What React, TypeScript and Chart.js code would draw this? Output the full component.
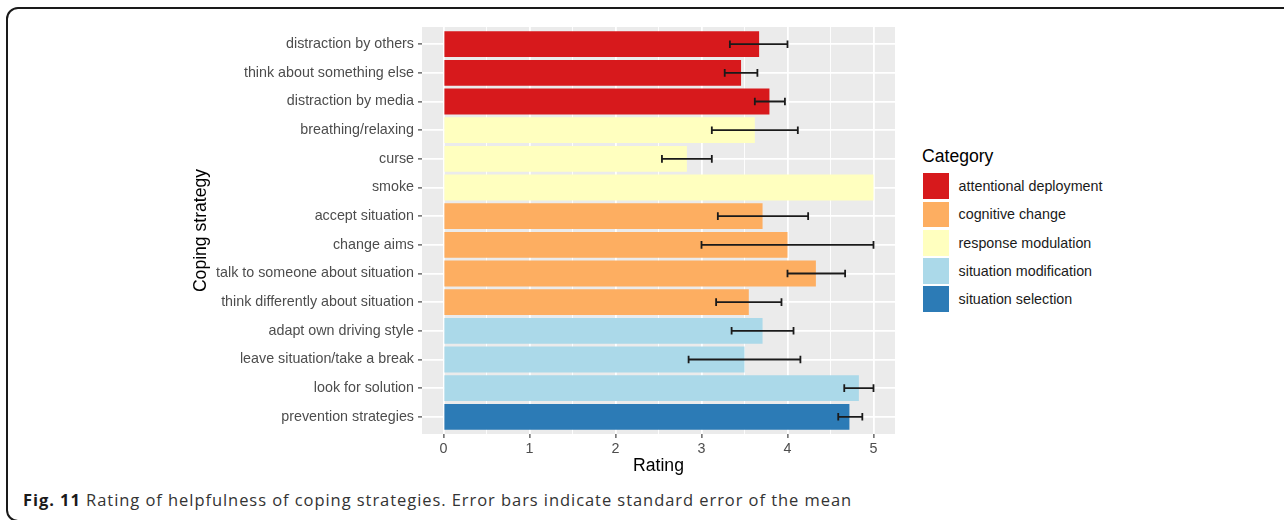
import React, { useEffect, useRef } from "react";
import Chart from "chart.js/auto";

// ---- data ----
const strategies = [
  "distraction by others",
  "think about something else",
  "distraction by media",
  "breathing/relaxing",
  "curse",
  "smoke",
  "accept situation",
  "change aims",
  "talk to someone about situation",
  "think differently about situation",
  "adapt own driving style",
  "leave situation/take a break",
  "look for solution",
  "prevention strategies",
];
const ratings = [3.67, 3.46, 3.79, 3.62, 2.83, 5.0, 3.71, 4.0, 4.33, 3.55, 3.71, 3.5, 4.83, 4.72];
const errLow: (number | null)[] = [3.33, 3.27, 3.62, 3.12, 2.54, null, 3.19, 3.0, 4.0, 3.17, 3.35, 2.85, 4.66, 4.59];
const errHigh: (number | null)[] = [4.0, 3.65, 3.97, 4.12, 3.12, null, 4.24, 5.0, 4.67, 3.93, 4.07, 4.15, 5.0, 4.87];
const strategyCategory = [
  "attentional deployment",
  "attentional deployment",
  "attentional deployment",
  "response modulation",
  "response modulation",
  "response modulation",
  "cognitive change",
  "cognitive change",
  "cognitive change",
  "cognitive change",
  "situation modification",
  "situation modification",
  "situation modification",
  "situation selection",
];
const categories = [
  "attentional deployment",
  "cognitive change",
  "response modulation",
  "situation modification",
  "situation selection",
];
const categoryColors = ["#D7191C", "#FDAE61", "#FFFFBF", "#ABD9E9", "#2C7BB6"];
const xMajorTicks = [0, 1, 2, 3, 4, 5];
const xMinorTicks = [0.5, 1.5, 2.5, 3.5, 4.5];

const FONT = "'Liberation Sans', Arial, Helvetica, sans-serif";

const panelBg = {
  id: "panelBg",
  beforeDraw(chart: any) {
    const { ctx, chartArea } = chart;
    ctx.save();
    ctx.fillStyle = "#EBEBEB";
    ctx.fillRect(chartArea.left, chartArea.top, chartArea.right - chartArea.left, chartArea.bottom - chartArea.top);
    ctx.restore();
  },
};

const errorBars = {
  id: "errorBars",
  afterDatasetsDraw(chart: any) {
    const { ctx } = chart;
    const meta = chart.getDatasetMeta(0);
    const xs = chart.scales.x;
    ctx.save();
    ctx.strokeStyle = "#1A1A1A";
    ctx.lineWidth = 1.8;
    meta.data.forEach((bar: any, i: number) => {
      const lo = errLow[i];
      const hi = errHigh[i];
      if (lo == null || hi == null) return;
      const y = bar.y;
      const x1 = xs.getPixelForValue(lo);
      const x2 = xs.getPixelForValue(hi);
      const h = 3.8;
      ctx.beginPath();
      ctx.moveTo(x1, y);
      ctx.lineTo(x2, y);
      ctx.moveTo(x1, y - h);
      ctx.lineTo(x1, y + h);
      ctx.moveTo(x2, y - h);
      ctx.lineTo(x2, y + h);
      ctx.stroke();
    });
    ctx.restore();
  },
};

function ChartCanvas() {
  const ref = useRef<HTMLCanvasElement | null>(null);
  useEffect(() => {
    if (!ref.current) return;
    const colors = strategyCategory.map((c) => categoryColors[categories.indexOf(c)]);
    const chart = new Chart(ref.current, {
      type: "bar",
      data: {
        datasets: [
          {
            data: ratings.map((r, i) => ({ x: r, y: i })) as any,
            backgroundColor: colors,
            borderWidth: 0,
            barPercentage: 0.9,
            categoryPercentage: 1,
          },
        ],
      },
      options: {
        indexAxis: "y",
        animation: false,
        responsive: false,
        devicePixelRatio: 1,
        layout: { padding: { left: 191, top: 27, right: 5, bottom: 0 } },
        plugins: { legend: { display: false }, tooltip: { enabled: false } },
        scales: {
          x: {
            type: "linear",
            min: -0.25,
            max: 5.25,
            afterBuildTicks: (axis: any) => {
              axis.ticks = [...xMajorTicks, ...xMinorTicks].sort((a, b) => a - b).map((v) => ({ value: v }));
            },
            afterFit: (scale: any) => {
              scale.height = 43;
            },
            border: { display: false },
            grid: {
              color: "#FFFFFF",
              lineWidth: (c: any) => (Number.isInteger(c.tick?.value) ? 1.8 : 0.9),
              tickColor: (c: any) => (Number.isInteger(c.tick?.value) ? "#333333" : "rgba(0,0,0,0)"),
              tickLength: 4,
              tickWidth: 1.1,
            },
            ticks: {
              autoSkip: false,
              maxRotation: 0,
              padding: 2.5,
              color: "#4D4D4D",
              font: { family: FONT, size: 14.3 },
              callback: (v: any) => (Number.isInteger(v) ? String(v) : ""),
            },
            title: {
              display: true,
              text: "Rating",
              color: "#000000",
              font: { family: FONT, size: 17.6 },
              padding: 0,
            },
          },
          y: {
            type: "linear",
            reverse: true,
            offset: false,
            min: -0.6,
            max: strategies.length - 1 + 0.6,
            afterBuildTicks: (axis: any) => {
              axis.ticks = strategies.map((_, i) => ({ value: i }));
            },
            afterFit: (scale: any) => {
              scale.width = 231;
            },
            border: { display: false },
            grid: {
              offset: false,
              color: "#FFFFFF",
              lineWidth: 1.8,
              tickColor: "#333333",
              tickLength: 4,
              tickWidth: 1.1,
            },
            ticks: {
              autoSkip: false,
              padding: 4,
              color: "#4D4D4D",
              font: { family: FONT, size: 14.3 },
              callback: (v: any) => strategies[v] ?? "",
            },
            title: {
              display: true,
              text: "Coping strategy",
              color: "#000000",
              font: { family: FONT, size: 17.6 },
              padding: 0,
            },
          },
        },
      },
      plugins: [panelBg, errorBars],
    });
    return () => chart.destroy();
  }, []);
  return (
    <canvas
      ref={ref}
      width={900}
      height={477}
      style={{ position: "absolute", left: 0, top: 0, width: 900, height: 477 }}
    />
  );
}

export default function App() {
  return (
    <div style={{ position: "absolute", left: 0, top: 0, width: 1284, height: 520, overflow: "hidden", background: "#FFFFFF" }}>
      <div
        style={{
          position: "absolute",
          left: 6,
          top: 7,
          width: 1300,
          height: 515,
          boxSizing: "border-box",
          border: "2.5px solid #1A1A1A",
          borderRadius: 12,
        }}
      />
      <ChartCanvas />
      <div
        style={{
          position: "absolute",
          left: 922,
          top: 147.6,
          fontFamily: FONT,
          fontSize: 17.6,
          lineHeight: "17.6px",
          color: "#000000",
          whiteSpace: "nowrap",
        }}
      >
        Category
      </div>
      {categories.map((c, i) => (
        <div
          key={c}
          style={{
            position: "absolute",
            left: 921.6,
            top: 172.2 + i * 28.2,
            height: 28.2,
            display: "flex",
            alignItems: "center",
            whiteSpace: "nowrap",
          }}
        >
          <div style={{ width: 25.8, height: 25.8, margin: 1.2, background: categoryColors[i] }} />
          <span
            style={{
              marginLeft: 8.8,
              fontFamily: FONT,
              fontSize: 14.3,
              lineHeight: "28.2px",
              color: "#1A1A1A",
            }}
          >
            {c}
          </span>
        </div>
      ))}
      <div
        style={{
          position: "absolute",
          left: 23,
          top: 492,
          fontFamily: "'Open Sans', sans-serif",
          fontSize: 16.5,
          letterSpacing: 0.94,
          lineHeight: "16.5px",
          color: "#333333",
          whiteSpace: "nowrap",
        }}
      >
        <b style={{ color: "#1A1A1A" }}>Fig. 11</b> Rating of helpfulness of coping strategies. Error bars indicate
        standard error of the mean
      </div>
    </div>
  );
}
